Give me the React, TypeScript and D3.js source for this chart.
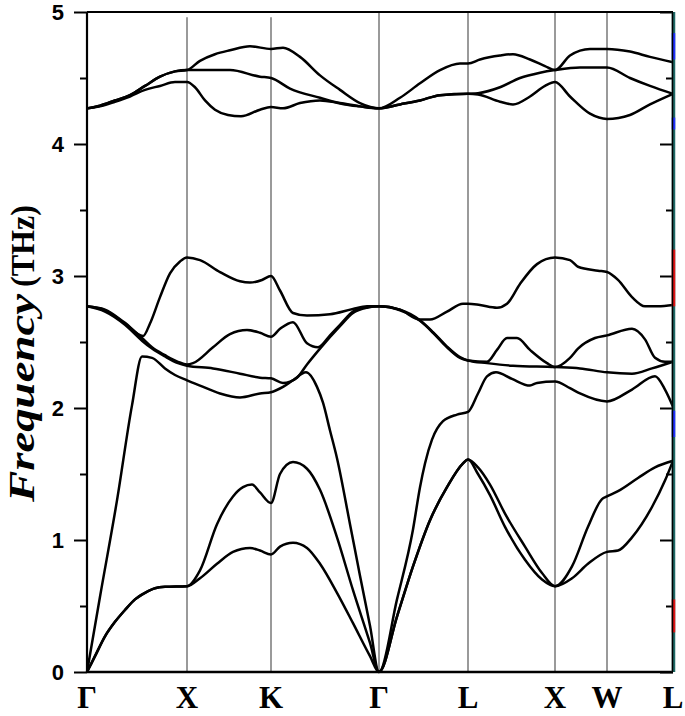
import React, { useEffect, useRef } from 'react';
import * as d3 from 'd3';

type Pt = [number, number];

const WIDTH = 685;
const HEIGHT = 716;

// high-symmetry points along the k-path (path units)
const kLabels = ['Γ', 'X', 'K', 'Γ', 'L', 'X', 'W', 'L'];
const kTicks = [0, 1.0, 1.84, 2.92, 3.81, 4.68, 5.2, 5.86];
const freqTicks = [0, 1, 2, 3, 4, 5];
const freqMinor = [0.5, 1.5, 2.5, 3.5, 4.5];

// phonon branches, sorted by frequency: [k, THz]
const band1: Pt[] = [
    [0, 0], [0.08, 0.12], [0.18, 0.27], [0.28, 0.38], [0.38, 0.47], [0.48, 0.55], [0.58, 0.6], [0.68, 0.635], [0.78, 0.645], [1.0, 0.65],
    [1.13, 0.71], [1.3, 0.82], [1.46, 0.91], [1.63, 0.94], [1.73, 0.92], [1.84, 0.89],
    [1.93, 0.95], [2.06, 0.98], [2.2, 0.94], [2.33, 0.82], [2.5, 0.6], [2.66, 0.37], [2.83, 0.12], [2.92, 0],
    [3.1, 0.42], [3.26, 0.8], [3.43, 1.15], [3.6, 1.4], [3.76, 1.58], [3.81, 1.61],
    [3.91, 1.5], [4.03, 1.34], [4.18, 1.1], [4.38, 0.85], [4.55, 0.7], [4.68, 0.65],
    [4.85, 0.71], [5.01, 0.82], [5.2, 0.91],
    [5.31, 0.92], [5.45, 1.02], [5.65, 1.25], [5.78, 1.45], [5.86, 1.6],
];
const band2: Pt[] = [
    [0, 0], [0.08, 0.12], [0.18, 0.27], [0.28, 0.38], [0.38, 0.47], [0.48, 0.55], [0.58, 0.6], [0.68, 0.635], [0.78, 0.645], [1.0, 0.65],
    [1.13, 0.77], [1.3, 1.12], [1.46, 1.33], [1.56, 1.4], [1.65, 1.42], [1.73, 1.36], [1.84, 1.28],
    [1.93, 1.5], [2.06, 1.59], [2.2, 1.54], [2.33, 1.38], [2.5, 1.02], [2.66, 0.62], [2.83, 0.22], [2.92, 0],
    [3.1, 0.42], [3.26, 0.8], [3.43, 1.15], [3.6, 1.4], [3.76, 1.58], [3.81, 1.61],
    [3.91, 1.55], [4.03, 1.42], [4.18, 1.2], [4.38, 0.95], [4.55, 0.75], [4.68, 0.65],
    [4.85, 0.8], [5.01, 1.1], [5.15, 1.31], [5.2, 1.33],
    [5.31, 1.37], [5.51, 1.47], [5.68, 1.55], [5.86, 1.6],
];
const band3: Pt[] = [
    [0, 0], [0.13, 0.57], [0.3, 1.3], [0.45, 2.02], [0.55, 2.39], [0.65, 2.38], [0.78, 2.3], [0.88, 2.25], [1.0, 2.21],
    [1.13, 2.17], [1.33, 2.11], [1.53, 2.08], [1.73, 2.11], [1.84, 2.12], [1.96, 2.16], [2.06, 2.21], [2.19, 2.27],
    [2.3, 2.16], [2.36, 2.04], [2.43, 1.83], [2.5, 1.62], [2.63, 1.12], [2.73, 0.73], [2.83, 0.35], [2.92, 0],
    [3.1, 0.55], [3.26, 1.08], [3.33, 1.4], [3.38, 1.58], [3.45, 1.76], [3.56, 1.9], [3.7, 1.95], [3.81, 1.97],
    [3.91, 2.11], [4.0, 2.24], [4.09, 2.27], [4.25, 2.22], [4.43, 2.17], [4.5, 2.19], [4.68, 2.2],
    [4.83, 2.15], [4.93, 2.11], [5.2, 2.05],
    [5.45, 2.14], [5.68, 2.24], [5.78, 2.14], [5.86, 2.01],
];
const band4: Pt[] = [
    [0, 2.77], [0.18, 2.73], [0.38, 2.63], [0.55, 2.51], [0.65, 2.45], [0.78, 2.39], [0.91, 2.34], [1.0, 2.32],
    [1.26, 2.3], [1.53, 2.26], [1.73, 2.23], [1.84, 2.225], [1.96, 2.19], [2.1, 2.23], [2.2, 2.33],
    [2.33, 2.45], [2.53, 2.62], [2.66, 2.72], [2.8, 2.76], [2.92, 2.77],
    [3.13, 2.74], [3.33, 2.66], [3.46, 2.57], [3.6, 2.46], [3.73, 2.38], [3.81, 2.36],
    [4.0, 2.34], [4.26, 2.32], [4.68, 2.31],
    [4.93, 2.3], [5.2, 2.27],
    [5.45, 2.26], [5.65, 2.3], [5.86, 2.35],
];
const band5: Pt[] = [
    [0, 2.77], [0.18, 2.74], [0.38, 2.64], [0.55, 2.53], [0.65, 2.46], [0.78, 2.4], [0.91, 2.35], [1.0, 2.33],
    [1.06, 2.34], [1.26, 2.46], [1.43, 2.56], [1.6, 2.59], [1.73, 2.57], [1.84, 2.54], [1.93, 2.6], [2.06, 2.65],
    [2.2, 2.49], [2.31, 2.46], [2.43, 2.55], [2.53, 2.63], [2.66, 2.73], [2.8, 2.765], [2.92, 2.77],
    [3.13, 2.745], [3.33, 2.665], [3.46, 2.575], [3.6, 2.465], [3.73, 2.385], [3.81, 2.36],
    [4.0, 2.35], [4.1, 2.44], [4.2, 2.53], [4.3, 2.53], [4.43, 2.44], [4.6, 2.34], [4.68, 2.31],
    [4.83, 2.38], [4.91, 2.45], [5.08, 2.53], [5.2, 2.55],
    [5.45, 2.6], [5.58, 2.52], [5.68, 2.38], [5.78, 2.35], [5.86, 2.35],
];
const band6: Pt[] = [
    [0, 2.77], [0.18, 2.745], [0.38, 2.645], [0.56, 2.545], [0.63, 2.64], [0.73, 2.84], [0.83, 3.02], [0.93, 3.11], [1.0, 3.14],
    [1.13, 3.12], [1.33, 3.03], [1.53, 2.96], [1.63, 2.95], [1.75, 2.97], [1.84, 3.0],
    [1.93, 2.89], [2.06, 2.72], [2.2, 2.7], [2.43, 2.71], [2.66, 2.75], [2.8, 2.77], [2.92, 2.77],
    [3.13, 2.745], [3.33, 2.67], [3.43, 2.67], [3.6, 2.73], [3.76, 2.79], [3.81, 2.79],
    [3.93, 2.78], [4.1, 2.76], [4.2, 2.79], [4.33, 2.94], [4.5, 3.09], [4.68, 3.14],
    [4.83, 3.12], [4.91, 3.07], [5.11, 3.04], [5.2, 3.03],
    [5.31, 2.97], [5.45, 2.84], [5.58, 2.77], [5.71, 2.77], [5.86, 2.78],
];
const band7: Pt[] = [
    [0, 4.27], [0.13, 4.285], [0.28, 4.32], [0.43, 4.36], [0.58, 4.41], [0.73, 4.44], [0.88, 4.47], [1.0, 4.47],
    [1.08, 4.43], [1.18, 4.33], [1.28, 4.26], [1.41, 4.22], [1.54, 4.21], [1.73, 4.26], [1.84, 4.28],
    [1.96, 4.27], [2.13, 4.31], [2.33, 4.33], [2.53, 4.31], [2.73, 4.285], [2.92, 4.27],
    [3.13, 4.3], [3.33, 4.33], [3.53, 4.37], [3.81, 4.38],
    [3.91, 4.375], [4.13, 4.32], [4.26, 4.3], [4.43, 4.36], [4.58, 4.44], [4.68, 4.47],
    [4.83, 4.36], [5.03, 4.23], [5.2, 4.19],
    [5.43, 4.22], [5.63, 4.3], [5.86, 4.38],
];
const band8: Pt[] = [
    [0, 4.27], [0.13, 4.29], [0.28, 4.33], [0.43, 4.37], [0.58, 4.44], [0.73, 4.51], [0.88, 4.55], [1.0, 4.56],
    [1.13, 4.56], [1.28, 4.56], [1.43, 4.56], [1.73, 4.51], [1.84, 4.5],
    [2.03, 4.42], [2.33, 4.35], [2.58, 4.3], [2.73, 4.285], [2.92, 4.27],
    [3.13, 4.3], [3.33, 4.33], [3.53, 4.37], [3.81, 4.38],
    [3.91, 4.385], [4.13, 4.43], [4.33, 4.5], [4.53, 4.54], [4.68, 4.56],
    [4.93, 4.58], [5.2, 4.58],
    [5.43, 4.5], [5.63, 4.44], [5.86, 4.38],
];
const band9: Pt[] = [
    [0, 4.27], [0.13, 4.29], [0.28, 4.33], [0.43, 4.37], [0.58, 4.44], [0.73, 4.51], [0.88, 4.55], [1.0, 4.56],
    [1.13, 4.63], [1.28, 4.68], [1.43, 4.71], [1.63, 4.74], [1.84, 4.72],
    [1.96, 4.73], [2.13, 4.66], [2.33, 4.52], [2.53, 4.41], [2.73, 4.31], [2.92, 4.27],
    [3.13, 4.35], [3.33, 4.46], [3.53, 4.56], [3.73, 4.61], [3.81, 4.61],
    [3.93, 4.64], [4.13, 4.67], [4.26, 4.68], [4.43, 4.64], [4.58, 4.59], [4.68, 4.56],
    [4.83, 4.67], [5.03, 4.72], [5.2, 4.72],
    [5.43, 4.7], [5.63, 4.66], [5.86, 4.62],
];

const bands = [band1, band2, band3, band4, band5, band6, band7, band8, band9];

// coloured specks on the right frame of the original figure [from THz, to THz, colour]
const rightEdgePatches: [number, number, string][] = [
    [4.64, 4.84, '#2030ff'],
    [4.11, 4.2, '#2030ff'],
    [2.77, 3.2, '#e01515'],
    [1.78, 1.98, '#2030ff'],
    [0.3, 0.55, '#e01515'],
];

export default function App() {
    const ref = useRef<SVGSVGElement>(null);

    useEffect(() => {
        const svg = d3.select(ref.current);
        svg.selectAll('*').remove();

        const x = d3.scaleLinear().domain([0, 5.86]).range([87, 673]);
        const y = d3.scaleLinear().domain([0, 5]).range([672, 12]);

        // vertical lines at the high-symmetry points
        svg.append('g')
            .selectAll('line')
            .data(kTicks.slice(1, -1))
            .join('line')
            .attr('x1', (d) => x(d))
            .attr('x2', (d) => x(d))
            .attr('y1', (d, i) => (i < 2 ? y(4.96) : y(5)))
            .attr('y2', y(0))
            .attr('stroke', '#8f8f8f')
            .attr('stroke-width', 1.8);

        const line = d3
            .line<Pt>()
            .x((d) => x(d[0]))
            .y((d) => y(d[1]))
            .curve(d3.curveMonotoneX);

        svg.append('g')
            .selectAll('path')
            .data(bands)
            .join('path')
            .attr('d', (d) => line(d))
            .attr('fill', 'none')
            .attr('stroke', '#000')
            .attr('stroke-width', 2.5)
            .attr('stroke-linejoin', 'round');

        // left axis: major + minor ticks, pointing outward
        const left = svg.append('g').attr('transform', `translate(${x(0)},0)`);
        left.call(
            d3.axisLeft(y).tickValues(freqTicks).tickSize(13).tickSizeOuter(0).tickPadding(10).tickFormat(d3.format('d'))
        );
        left.append('g').call(d3.axisLeft(y).tickValues(freqMinor).tickSize(7).tickSizeOuter(0).tickFormat(() => ''));
        left.selectAll('.domain').remove();
        left.selectAll('line').attr('stroke', '#000').attr('stroke-width', 2);
        left.selectAll('text')
            .attr('font-family', '"Liberation Sans", Arial, sans-serif')
            .attr('font-weight', 'bold')
            .attr('font-size', 22)
            .attr('fill', '#000');

        // right axis: ticks pointing inward
        const right = svg.append('g').attr('transform', `translate(${x(5.86)},0)`);
        right.call(d3.axisLeft(y).tickValues(freqTicks).tickSize(13).tickSizeOuter(0).tickFormat(() => ''));
        right.append('g').call(d3.axisLeft(y).tickValues(freqMinor).tickSize(7).tickSizeOuter(0).tickFormat(() => ''));
        right.selectAll('.domain').remove();
        right.selectAll('line').attr('stroke', '#000').attr('stroke-width', 2);

        // frame
        svg.append('line')
            .attr('x1', x(0)).attr('x2', x(5.86)).attr('y1', y(5)).attr('y2', y(5))
            .attr('stroke', '#000').attr('stroke-width', 2);
        svg.append('line')
            .attr('x1', x(0)).attr('x2', x(5.86)).attr('y1', y(0)).attr('y2', y(0))
            .attr('stroke', '#000').attr('stroke-width', 2.5);
        svg.append('line')
            .attr('x1', x(0)).attr('x2', x(0)).attr('y1', y(5)).attr('y2', y(0))
            .attr('stroke', '#000').attr('stroke-width', 2.2);
        svg.append('line')
            .attr('x1', x(5.86) + 0.5).attr('x2', x(5.86) + 0.5).attr('y1', y(5)).attr('y2', y(0))
            .attr('stroke', '#1f6a66').attr('stroke-width', 3.5);
        svg.append('g')
            .selectAll('line')
            .data(rightEdgePatches)
            .join('line')
            .attr('x1', x(5.86) + 0.5)
            .attr('x2', x(5.86) + 0.5)
            .attr('y1', (d) => y(d[0]))
            .attr('y2', (d) => y(d[1]))
            .attr('stroke', (d) => d[2])
            .attr('stroke-width', 3.5);
        svg.append('line')
            .attr('x1', x(5.86) - 0.5).attr('x2', x(5.86) - 0.5).attr('y1', y(5)).attr('y2', y(0))
            .attr('stroke', '#000').attr('stroke-width', 1.5);

        // k-point labels
        svg.append('g')
            .selectAll('text')
            .data(kTicks)
            .join('text')
            .attr('x', (d) => x(d))
            .attr('y', 708)
            .attr('text-anchor', 'middle')
            .attr('font-family', '"Liberation Serif", "Times New Roman", serif')
            .attr('font-weight', 'bold')
            .attr('font-size', 31)
            .text((d, i) => kLabels[i]);

        // y-axis title
        svg.append('text')
            .attr('transform', 'translate(34,502) rotate(-90)')
            .attr('font-family', '"Liberation Serif", "Times New Roman", serif')
            .attr('font-weight', 'bold')
            .attr('font-style', 'italic')
            .attr('font-size', 36)
            .attr('textLength', 208)
            .attr('lengthAdjust', 'spacingAndGlyphs')
            .text('Frequency');
        svg.append('text')
            .attr('transform', 'translate(34,287) rotate(-90)')
            .attr('font-family', '"Liberation Serif", "Times New Roman", serif')
            .attr('font-weight', 'bold')
            .attr('font-size', 34)
            .attr('textLength', 82)
            .attr('lengthAdjust', 'spacingAndGlyphs')
            .text('(THz)');
    }, []);

    return (
        <svg
            ref={ref}
            width={WIDTH}
            height={HEIGHT}
            style={{ position: 'absolute', left: 0, top: 0, background: '#fff' }}
        />
    );
}
